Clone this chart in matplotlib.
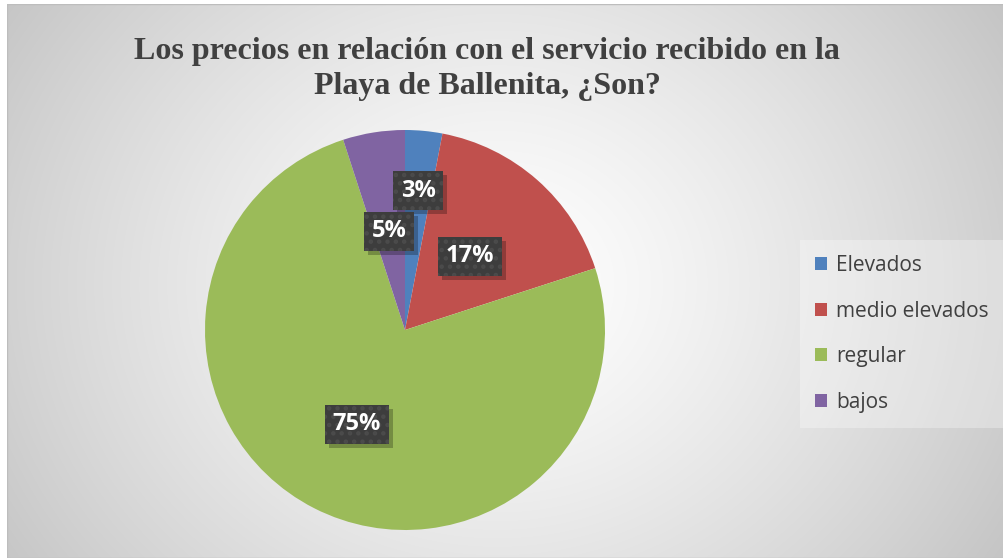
import numpy as np
import matplotlib
matplotlib.use("Agg")
import matplotlib.pyplot as plt
from matplotlib.patches import Rectangle
from matplotlib.transforms import IdentityTransform

# datos
categorias = ["Elevados", "medio elevados", "regular", "bajos"]
porcentajes = [3, 17, 75, 5]
colores = ["#4F81BD", "#C0504D", "#9BBB59", "#8064A2"]
titulo = "Los precios en relación con el servicio recibido en la\nPlaya de Ballenita, ¿Son?"

# distancia de cada etiqueta al centro (fraccion del radio)
dist_etiquetas = [0.70, 0.49, 0.53, 0.50]

W, H = 1004, 558
fig = plt.figure(figsize=(W / 100, H / 100), dpi=100)
fig.patch.set_facecolor("white")

# fondo con degradado radial
bg = fig.add_axes([7 / W, 0, 1 - 7 / W, 1 - 4 / H])
bg.set_axis_off()
yy, xx = np.mgrid[0:H - 4, 0:W - 7]
r = np.hypot(xx - 490, (yy - 280) * 1.15)
v = 1 - 0.23 * np.clip(r / r.max(), 0, 1) ** 1.3
bg.imshow(np.dstack([v, v, v]), aspect="auto", extent=(0, 1, 0, 1))
bg.set_xlim(0, 1)
bg.set_ylim(0, 1)
bg.add_patch(Rectangle((0, 0), 1, 1, transform=bg.transAxes, fill=False,
                       ec="#bdbdbd", lw=1))

fig.text(487 / W, 1 - 69 / H, titulo, ha="center", va="center",
         fontsize=23, fontweight="bold", family="Liberation Serif",
         color="#404040", linespacing=1.3)

ax = fig.add_axes([205 / W, 28 / H, 400 / W, 400 / H])
wedges, _ = ax.pie(porcentajes, colors=colores, startangle=90,
                   counterclock=False, radius=1,
                   wedgeprops=dict(linewidth=0))
ax.set_xlim(-1, 1)
ax.set_ylim(-1, 1)
ax.set_aspect("equal")

plt.rcParams["hatch.linewidth"] = 2.0
etiquetas = []
for w, p, d in zip(wedges, porcentajes, dist_etiquetas):
    ang = np.deg2rad((w.theta1 + w.theta2) / 2)
    t = ax.text(d * np.cos(ang), d * np.sin(ang), f"{p}%", ha="center",
                va="center", fontsize=17, fontweight="bold",
                family="Open Sans", color="white", zorder=4,
                bbox=dict(boxstyle="square,pad=0.32", fc="#3d3d3d",
                          ec="#4b4b4b", lw=0, hatch=".."))
    etiquetas.append(t)

leg = fig.legend(wedges, categorias, loc="upper left",
                 bbox_to_anchor=(800 / W, 1 - 240 / H),
                 frameon=True, fancybox=False, framealpha=0.3,
                 facecolor="white", edgecolor="none",
                 prop=dict(family="Open Sans", size=15),
                 labelcolor="#404040", handlelength=0.6, handleheight=0.6,
                 handletextpad=0.4, labelspacing=1.18, borderpad=0.72,
                 borderaxespad=0)

# sombras de las cajas de etiquetas
fig.canvas.draw()
for t in etiquetas:
    bb = t.get_bbox_patch().get_window_extent()
    ax.add_patch(Rectangle((bb.x0 + 4, bb.y0 - 4), bb.width, bb.height,
                           transform=IdentityTransform(), fc="black",
                           alpha=0.25, lw=0, zorder=3))

fig.savefig("out.png", dpi=100, facecolor=fig.get_facecolor())
